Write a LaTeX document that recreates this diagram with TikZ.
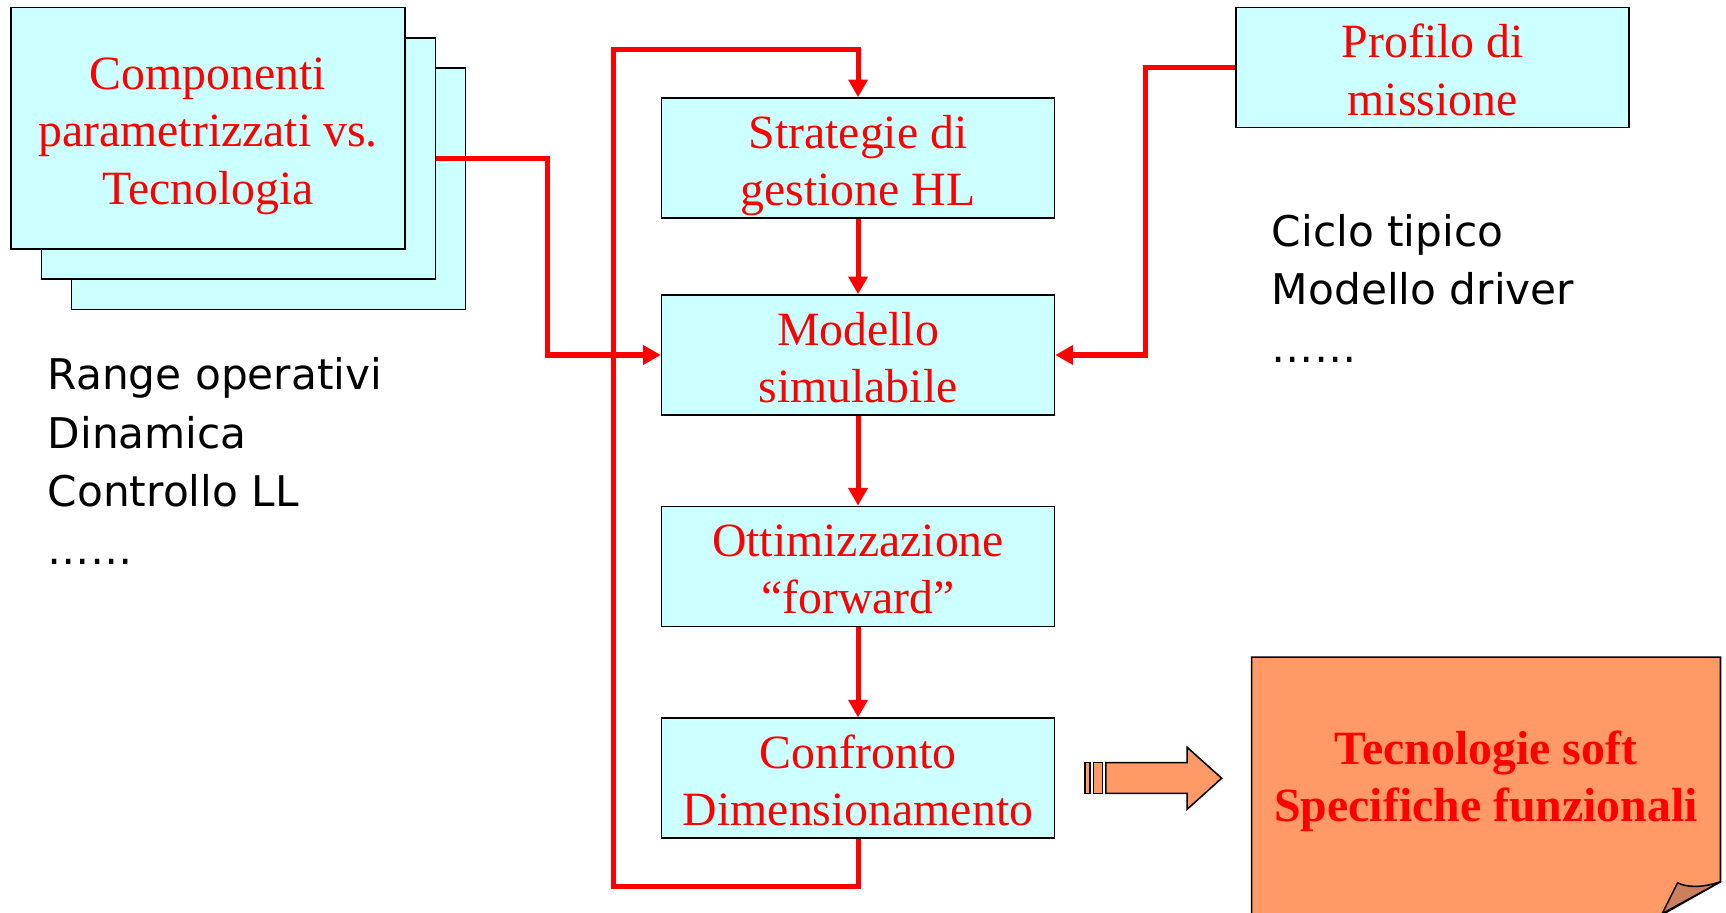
\documentclass[tikz,border=0pt]{standalone}
\usepackage{fontspec}
\setmainfont{Liberation Serif}
\newfontfamily\tahoma{DejaVu Sans}
\usetikzlibrary{arrows.meta}
\definecolor{boxcyan}{HTML}{CCFFFF}
\definecolor{pptred}{HTML}{FF0000}
\definecolor{noteorange}{HTML}{FF9966}
\definecolor{foldorange}{HTML}{CC7F5C}
\tikzset{
  procbox/.style={draw=black, line width=0.7pt, fill=boxcyan, minimum width=178.5pt, minimum height=54.5pt, inner sep=0pt, align=center, text=pptred, text height=43pt, text depth=0pt, font=\fontsize{21.7pt}{26pt}\selectfont},
  stackbox/.style={draw=black, line width=0.7pt, fill=boxcyan, minimum width=179pt, minimum height=109.5pt, inner sep=0pt},
  redflow/.style={draw=pptred, line width=2.3pt, -{Triangle[length=8pt,width=8.5pt]}},
  sidetext/.style={align=left, text=black, inner sep=0pt, font=\tahoma\fontsize{19.2pt}{26.5pt}\selectfont},
  blockarrow/.style={draw=black, line width=0.7pt, fill=noteorange, line join=miter}
}
\begin{document}
\begin{tikzpicture}[x=0.5pt, y=-0.5pt]
\useasboundingbox (0,0) rectangle (1568,829);
% stacked boxes
\node[stackbox] (back) at (244,171.5) {};
\node[stackbox] (mid) at (216.5,144) {};
\node[stackbox, align=center, text=pptred, text height=69pt, text depth=0pt, font=\fontsize{21.7pt}{26pt}\selectfont] (front) at (189,116.5) {Componenti\\parametrizzati vs.\\Tecnologia};
% process boxes
\node[procbox] (strat) at (779.5,143.5) {Strategie di\\gestione HL};
\node[procbox] (model) at (779.5,322.5) {Modello\\simulabile};
\node[procbox] (ottim) at (779.5,514.5) {Ottimizzazione\\“forward”};
\node[procbox] (conf) at (779.5,707) {Confronto\\Dimensionamento};
\node[procbox] (prof) at (1301.5,61.5) {Profilo di\\missione};
% side texts (anchor = baseline of last line)
\node[sidetext, anchor=base west] (lefttxt) at (43,513) {Range operativi\\Dinamica\\Controllo LL\\……};
\node[sidetext, anchor=base west] (righttxt) at (1155,329.5) {Ciclo tipico\\Modello driver\\……};
% connectors
\draw[redflow] (strat) -- (model);
\draw[redflow] (model) -- (ottim);
\draw[redflow] (ottim) -- (conf);
\draw[redflow] (mid.east) -- (497,144) |- (model.west);
\draw[redflow] (prof.west) -- (1041,61.5) |- (model.east);
\draw[redflow] (conf.south) -- ++(0,43) -| (557,45) -| (strat.north);
% block arrow
\draw[blockarrow] (985.7,692.8) rectangle (990.2,720.7);
\draw[blockarrow] (993.2,692.8) rectangle (1001.4,720.7);
\draw[blockarrow] (1004.7,692.8) -- (1078.5,692.8) -- (1078.5,678.9) -- (1109.8,707) -- (1078.5,735.2) -- (1078.5,720.7) -- (1004.7,720.7) -- cycle;
% note with folded corner
\draw[draw=black, line width=0.7pt, fill=noteorange, line join=miter] (1137,840) -- (1137,597) -- (1563,597) -- (1563,801) -- (1510,831) -- (1510,840);
\draw[draw=black, line width=0.7pt, fill=foldorange, line join=round] (1563,801) .. controls (1545,807) and (1532,806) .. (1524,802) -- (1510,830) -- cycle;
\node[align=center, text=pptred, font=\bfseries\fontsize{21.7pt}{26pt}\selectfont, inner sep=0pt] (note) at (1350,710) {Tecnologie soft\\Specifiche funzionali};
\end{tikzpicture}
\end{document}
